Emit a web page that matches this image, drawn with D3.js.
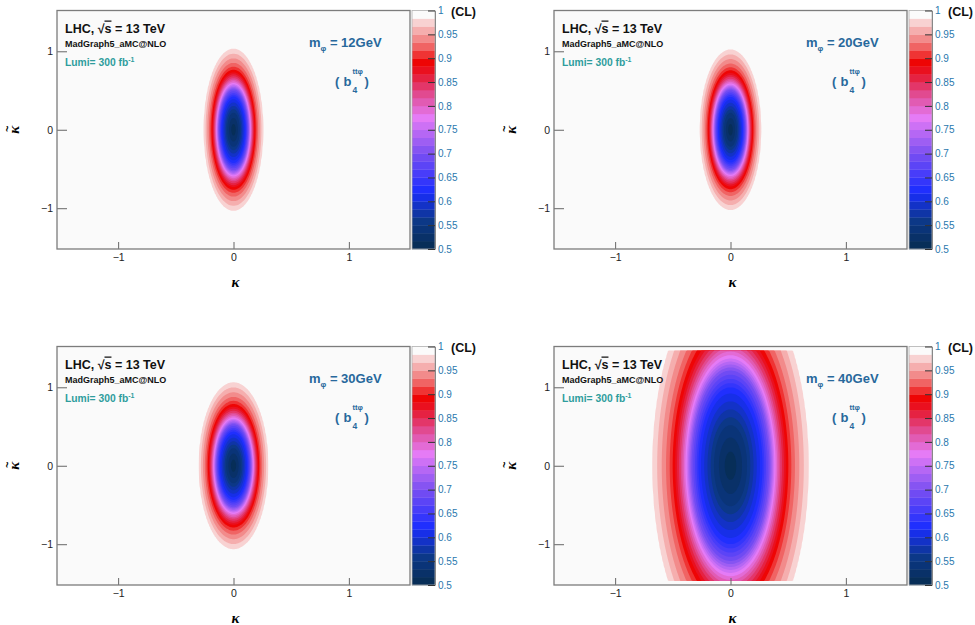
<!DOCTYPE html>
<html>
<head>
<meta charset="utf-8">
<script src="https://cdn.jsdelivr.net/npm/d3@7"></script>
<style>
  body { margin: 0; background: #ffffff; }
  svg { display: block; }
  text { font-family: "Liberation Sans", Arial, Helvetica, sans-serif; }
</style>
</head>
<body>
<svg id="chart" width="975" height="625"></svg>
<script>
// ---- data ----------------------------------------------------------------
// scalar mass of each panel
const massLabels = ["12GeV", "20GeV", "30GeV", "40GeV"];
// half-widths of the outermost CL contour (CL = 0.983) along kappa and kappa-tilde
const halfKappa      = [0.257, 0.265, 0.300, 0.675];
const halfKappaTilde = [1.03, 1.02, 1.06, 2.43];
// CL as a function of the normalised elliptic radius (1 = outermost contour)
const profileRho = [0.00, 0.20, 0.40, 0.50, 0.57, 0.64, 0.72, 0.80, 0.90, 1.00, 1.15];
const profileCL  = [0.500, 0.545, 0.625, 0.700, 0.775, 0.835, 0.890, 0.925, 0.955, 0.983, 1.000];
// contour levels of the CL map
const clMin = 0.5, clMax = 1.0, nLevels = 30;
// colour bar ticks
const clTicks = [0.5, 0.55, 0.6, 0.65, 0.7, 0.75, 0.8, 0.85, 0.9, 0.95, 1];
const clTickLabels = ["0.5", "0.55", "0.6", "0.65", "0.7", "0.75", "0.8", "0.85", "0.9", "0.95", "1"];
// axis ticks
const axisTicks = [-1, 0, 1];
const axisTickLabels = ["\u22121", "0", "1"];
// colour palette stops (CL -> colour)
const paletteCL     = [0.50, 0.56, 0.62, 0.70, 0.775, 0.82, 0.86, 0.89, 0.93, 0.975, 1.00];
const paletteColors = ["#062c50", "#0c3889", "#1a2dff", "#7a4ff2", "#e57bf6", "#e0509c",
                       "#e5203e", "#ee0000", "#f07272", "#f8d2d2", "#fafafa"];

// ---- layout --------------------------------------------------------------
const panelDX = [0, 497, 0, 497];
const panelDY = [0, 0, 336, 336];
const frame = { x0: 57, x1: 410, y0: 10.5, y1: 249 };
const bar = { x0: 412, x1: 435 };
const axisDomain = 1.53, axisDomainY = 1.52;
const gridHalf = 1.47, gridN = 240;

const palette = d3.scaleLinear().domain(paletteCL).range(paletteColors).interpolate(d3.interpolateRgb);
const levelStep = (clMax - clMin) / nLevels;
const bandColor = b => palette(clMin + (b + 0.5) * levelStep);
const profile = d3.scaleLinear().domain(profileRho).range(profileCL).clamp(true);

const svg = d3.select("#chart");

function drawPanel(p) {
  const g = svg.append("g").attr("transform", `translate(${panelDX[p]},${panelDY[p]})`);
  const xs = d3.scaleLinear().domain([-axisDomain, axisDomain]).range([frame.x0, frame.x1]);
  const ys = d3.scaleLinear().domain([-axisDomainY, axisDomainY]).range([frame.y1, frame.y0]);

  // frame background
  g.append("rect")
    .attr("x", frame.x0).attr("y", frame.y0)
    .attr("width", frame.x1 - frame.x0).attr("height", frame.y1 - frame.y0)
    .attr("fill", "#fafafa");

  const clipId = "clip" + p;
  g.append("clipPath").attr("id", clipId).append("rect")
    .attr("x", frame.x0).attr("y", frame.y0)
    .attr("width", frame.x1 - frame.x0).attr("height", frame.y1 - frame.y0);

  // CL grid, sampled over the histogram range
  const step = 2 * gridHalf / gridN;
  const a = halfKappa[p], b = halfKappaTilde[p];
  const values = new Array(gridN * gridN);
  for (let j = 0; j < gridN; j++) {
    const kt = -gridHalf + (j + 0.5) * step;
    for (let i = 0; i < gridN; i++) {
      const k = -gridHalf + (i + 0.5) * step;
      const rho = Math.sqrt((k / a) * (k / a) + (kt / b) * (kt / b));
      values[j * gridN + i] = -profile(rho); // negated: regions CL <= level
    }
  }
  const proj = d3.geoTransform({
    point(x, y) { this.stream.point(xs(-gridHalf + x * step), ys(-gridHalf + y * step)); }
  });
  const path = d3.geoPath(proj);
  const contours = d3.contours().size([gridN, gridN]);

  const map = g.append("g").attr("clip-path", `url(#${clipId})`);
  for (let band = nLevels - 2; band >= 0; band--) {
    const upper = clMin + (band + 1) * levelStep;
    const geom = contours.contour(values, -upper);
    map.append("path").attr("d", path(geom)).attr("fill", bandColor(band));
  }

  // axes
  const xAxis = d3.axisBottom(xs).tickValues(axisTicks)
    .tickFormat((d, i) => axisTickLabels[i]).tickSizeInner(-7).tickSizeOuter(0).tickPadding(5);
  const gx = g.append("g").attr("transform", `translate(0,${frame.y1})`).call(xAxis);
  const yAxis = d3.axisLeft(ys).tickValues(axisTicks)
    .tickFormat((d, i) => axisTickLabels[i]).tickSizeInner(-10).tickSizeOuter(0).tickPadding(4);
  const gy = g.append("g").attr("transform", `translate(${frame.x0},0)`).call(yAxis);
  [gx, gy].forEach(ax => {
    ax.select(".domain").remove();
    ax.selectAll("line").attr("stroke", "#666").attr("stroke-width", 1);
    ax.selectAll("text").attr("fill", "#222").style("font-size", "10.5px")
      .style("font-family", "'Liberation Sans', Arial, sans-serif");
  });

  // frame border
  g.append("rect")
    .attr("x", frame.x0).attr("y", frame.y0)
    .attr("width", frame.x1 - frame.x0).attr("height", frame.y1 - frame.y0)
    .attr("fill", "none").attr("stroke", "#7c7c7c").attr("stroke-width", 1.3);

  // axis titles
  g.append("text").attr("x", xs(0) + 2).attr("y", 287).attr("text-anchor", "middle")
    .style("font-family", "'Liberation Serif', 'DejaVu Serif', serif")
    .style("font-style", "italic").style("font-weight", "bold").style("font-size", "15px")
    .text("\u03ba");
  const yt = g.append("g").attr("transform", `translate(19,${ys(0)}) rotate(-90)`);
  yt.append("text").attr("x", 0).attr("y", 0).attr("text-anchor", "middle")
    .style("font-family", "'Liberation Serif', 'DejaVu Serif', serif")
    .style("font-style", "italic").style("font-weight", "bold").style("font-size", "15px")
    .text("\u03ba");
  yt.append("text").attr("x", 1).attr("y", -8).attr("text-anchor", "middle")
    .style("font-family", "'Liberation Sans', Arial, sans-serif")
    .style("font-weight", "bold").style("font-size", "11px")
    .text("~");

  // colour bar
  const cy = d3.scaleLinear().domain([clMin, clMax]).range([frame.y1, frame.y0]);
  const bands = d3.range(nLevels);
  g.append("g").selectAll("rect").data(bands).join("rect")
    .attr("x", bar.x0).attr("width", bar.x1 - bar.x0)
    .attr("y", d => cy(clMin + (d + 1) * levelStep))
    .attr("height", d => cy(clMin + d * levelStep) - cy(clMin + (d + 1) * levelStep) + 0.3)
    .attr("fill", d => d === nLevels - 1 ? "#fbfbfb" : bandColor(d));
  g.append("rect")
    .attr("x", bar.x0).attr("y", frame.y0)
    .attr("width", bar.x1 - bar.x0).attr("height", frame.y1 - frame.y0)
    .attr("fill", "none").attr("stroke", "#b0b0b0").attr("stroke-width", 0.8);
  const cAxis = d3.axisRight(cy).tickValues(clTicks)
    .tickFormat((d, i) => clTickLabels[i]).tickSizeInner(-7).tickSizeOuter(0).tickPadding(3);
  const gc = g.append("g").attr("transform", `translate(${bar.x1},0)`).call(cAxis);
  gc.select(".domain").attr("stroke", "#888").attr("stroke-width", 1);
  gc.selectAll("line").attr("stroke", "#333").attr("stroke-width", 1);
  gc.selectAll("text").attr("fill", "#2a78ae").style("font-size", "10px")
    .style("font-family", "'Liberation Sans', Arial, sans-serif");
  g.append("text").attr("x", 451).attr("y", 15.7)
    .style("font-weight", "bold").style("font-size", "12.5px").attr("fill", "#111")
    .text("(CL)");

  // annotations
  const lhc = g.append("text").attr("x", 65).attr("y", 32.5)
    .style("font-weight", "bold").style("font-size", "12.5px").attr("fill", "#111");
  lhc.append("tspan").text("LHC, \u221A");
  lhc.append("tspan").style("text-decoration", "overline").text("s");
  lhc.append("tspan").text(" = 13 TeV");

  g.append("text").attr("x", 65).attr("y", 47)
    .style("font-weight", "bold").style("font-size", "9px").attr("fill", "#111")
    .text("MadGraph5_aMC@NLO");

  const lumi = g.append("text").attr("x", 65).attr("y", 66)
    .style("font-weight", "bold").style("font-size", "10.3px").attr("fill", "#2e9d9d");
  lumi.append("tspan").text("Lumi= 300 fb");
  lumi.append("tspan").attr("dy", -4).style("font-size", "7px").text("-1");

  const blue = "#27689c";
  const m = g.append("text").attr("x", 309).attr("y", 47.3)
    .style("font-weight", "bold").style("font-size", "13px").attr("fill", blue);
  m.append("tspan").text("m");
  m.append("tspan").attr("dy", 4).style("font-size", "8px").text("\u03c6");
  m.append("tspan").attr("dy", -4).text(" = " + massLabels[p]);

  const t = g.append("g").attr("fill", blue)
    .style("font-weight", "bold").style("font-size", "13px");
  t.append("text").attr("x", 335).attr("y", 85.7).text("(");
  t.append("text").attr("x", 343.5).attr("y", 85.7).text("b");
  t.append("text").attr("x", 352.5).attr("y", 74).style("font-size", "7.5px").text("tt\u03c6");
  t.append("text").attr("x", 352.5).attr("y", 92.5).style("font-size", "8.5px").text("4");
  t.append("text").attr("x", 364.5).attr("y", 85.7).text(")");
}

for (let p = 0; p < 4; p++) drawPanel(p);
</script>
</body>
</html>
